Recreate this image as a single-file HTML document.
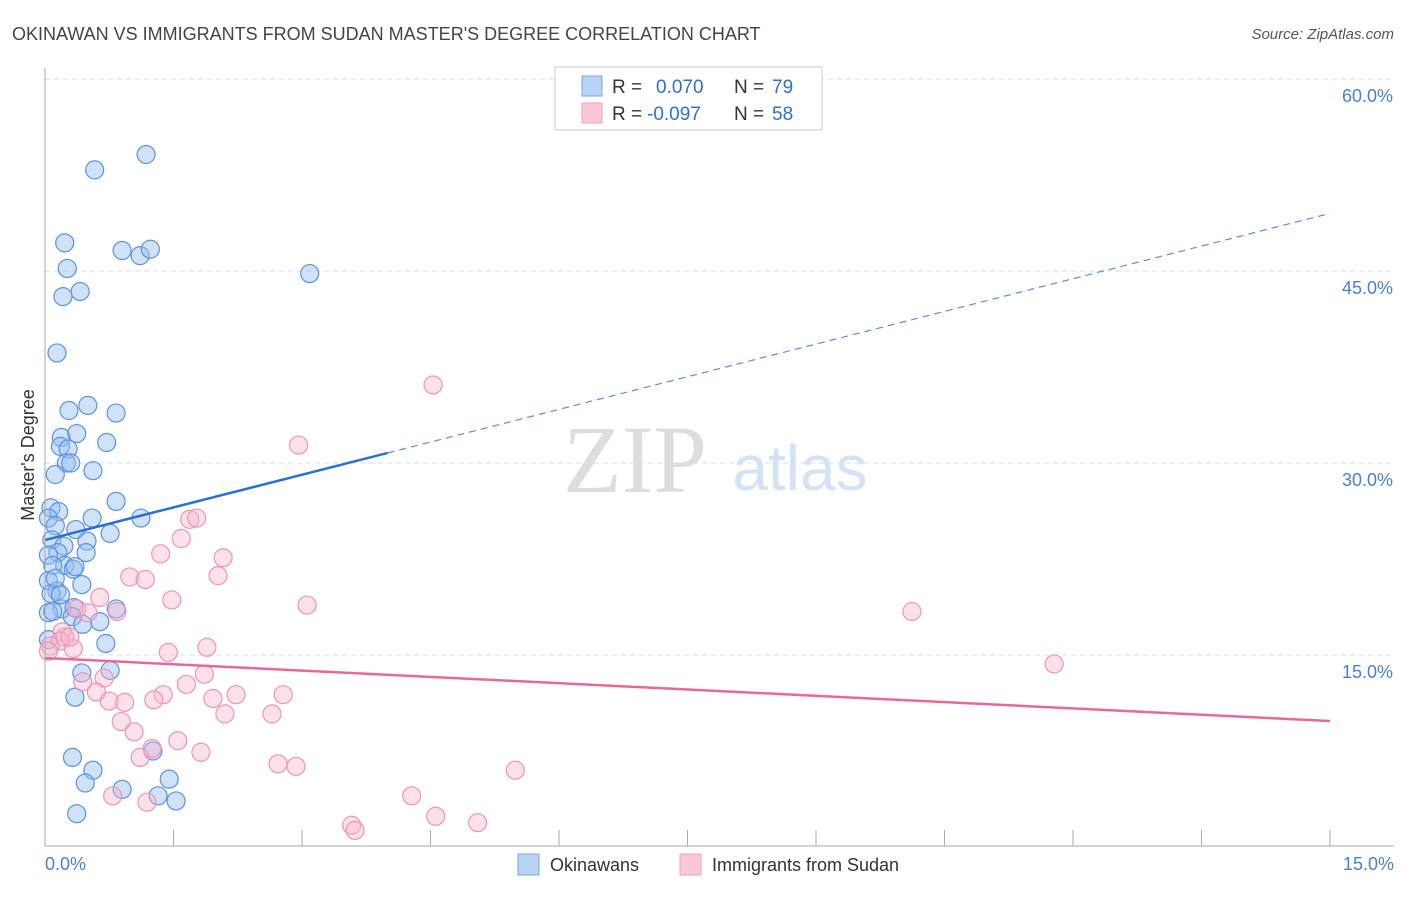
<!DOCTYPE html>
<html><head><meta charset="utf-8"><style>
body{margin:0;background:#fff;font-family:"Liberation Sans",sans-serif;}
svg text{font-family:"Liberation Sans",sans-serif;}
</style></head><body>
<svg id="chart" width="1406" height="892">
<text x="12" y="40" font-size="18" fill="#444">OKINAWAN VS IMMIGRANTS FROM SUDAN MASTER'S DEGREE CORRELATION CHART</text>
<text x="1394" y="39" font-size="15" fill="#555" font-style="italic" text-anchor="end">Source: ZipAtlas.com</text>
<g id="grid"></g>
<text x="635" y="492" font-size="96" fill="#ddd" text-anchor="middle" font-family="Liberation Serif" style="font-family:'Liberation Serif',serif">ZIP</text>
<text x="800" y="490" font-size="64" fill="#d3e2f5" text-anchor="middle">atlas</text>
<g id="points"></g>
<g id="lines"></g>
<line x1="45" y1="68" x2="45" y2="846" stroke="#aaa"/>
<line x1="45" y1="846" x2="1394" y2="846" stroke="#aaa"/>
<text x="34" y="455" font-size="18" fill="#333" text-anchor="middle" transform="rotate(-90 34 455)">Master's Degree</text>
<text x="45" y="870" font-size="18" fill="#4a7fd4">0.0%</text>
<text x="1394" y="870" font-size="18" fill="#4a7fd4" text-anchor="end">15.0%</text>
<g>
<rect x="555" y="67" width="267" height="63" fill="#fff" stroke="#ccc"/>
<rect x="582" y="76" width="20" height="20" fill="#b8d3f5" stroke="#7aa6e0"/>
<rect x="582" y="103" width="20" height="20" fill="#f9c8d8" stroke="#eea3bd"/>
<text x="612" y="93" font-size="19" fill="#333">R = </text><text x="656" y="93" font-size="19" fill="#2f6fd0">0.070</text>
<text x="734" y="93" font-size="19" fill="#333">N = </text><text x="772" y="93" font-size="19" fill="#2f6fd0">79</text>
<text x="612" y="120" font-size="19" fill="#333">R = </text><text x="647" y="120" font-size="19" fill="#2f6fd0">-0.097</text>
<text x="734" y="120" font-size="19" fill="#333">N = </text><text x="772" y="120" font-size="19" fill="#2f6fd0">58</text>
</g>
<g>
<rect x="518" y="854" width="21" height="21" fill="#b8d3f5" stroke="#7aa6e0"/>
<text x="550" y="871" font-size="18" fill="#333">Okinawans</text>
<rect x="680" y="854" width="21" height="21" fill="#f9c8d8" stroke="#eea3bd"/>
<text x="712" y="871" font-size="18" fill="#333">Immigrants from Sudan</text>
</g>
</svg>
<script>
const yTicks=[15,30,45,60];
const xTicks=[1,2,3,4,5,6,7,8,9,10,11,12,13,14,15];
const blueX=[1.18,0.58,0.23,0.90,1.11,1.23,0.26,0.41,0.21,3.09,0.14,0.28,0.50,0.83,0.19,0.37,0.18,0.27,0.72,0.25,0.30,0.56,0.12,0.83,0.07,0.16,0.55,1.12,0.04,0.12,0.36,0.76,0.08,0.22,0.49,0.15,0.48,0.04,0.23,0.33,0.09,0.35,0.04,0.43,0.14,0.07,0.20,0.34,0.83,0.04,0.32,0.44,0.64,0.09,0.71,0.43,0.76,0.35,0.32,0.56,0.47,0.90,1.45,0.37,1.32,1.53,1.26,0.04,0.12,0.18];
const blueY=[54.1,52.9,47.2,46.6,46.2,46.7,45.2,43.4,43.0,44.8,38.6,34.1,34.5,33.9,32.0,32.3,31.3,31.1,31.6,30.0,30.0,29.4,29.1,27.0,26.5,26.2,25.7,25.7,25.7,25.1,24.8,24.5,24.0,23.5,23.9,23.0,23.0,22.8,22.0,21.7,22.0,21.9,20.8,20.5,20.0,19.8,18.6,18.7,18.6,18.3,18.0,17.4,17.6,18.4,15.9,13.6,13.8,11.7,7.0,6.0,5.0,4.5,5.3,2.6,4.0,3.6,7.5,16.2,21.0,19.7];
const pinkX=[4.53,2.96,1.69,1.77,1.59,1.35,2.08,0.99,1.17,2.02,1.48,0.64,3.06,0.84,0.50,0.37,10.12,1.89,0.20,0.23,0.18,0.06,0.33,0.04,1.44,11.78,0.44,0.69,1.86,1.65,0.60,1.38,1.27,1.96,2.23,2.78,0.75,0.93,2.10,2.65,0.89,1.04,1.25,1.55,1.82,1.11,2.72,2.93,5.49,0.79,4.28,1.19,4.56,5.05,3.58,3.62,0.29];
const pinkY=[36.1,31.4,25.6,25.7,24.1,22.9,22.6,21.1,20.9,21.2,19.3,19.5,18.9,18.4,18.3,18.6,18.4,15.6,16.8,16.4,16.1,15.7,15.5,15.3,15.2,14.3,12.9,13.2,13.5,12.7,12.1,11.9,11.5,11.6,11.9,11.9,11.4,11.3,10.4,10.4,9.8,9.0,7.7,8.3,7.4,7.0,6.5,6.3,6.0,4.0,4.0,3.5,2.4,1.9,1.7,1.3,16.4];
const blueTrend=[23.98,49.5]; const blueSolidEnd=4.0;
const pinkTrend=[14.77,9.84];
const NS='http://www.w3.org/2000/svg';
const xs=v=>45+v/15*1285;
const ys=v=>847-v/60*768;
function mk(tag,attrs,parent){const e=document.createElementNS(NS,tag);for(const k in attrs)e.setAttribute(k,attrs[k]);parent.appendChild(e);return e;}
const grid=document.getElementById('grid');
yTicks.forEach(t=>{
 const l=mk('line',{x1:45,x2:1394,y1:ys(t),y2:ys(t),stroke:'#ddd','stroke-dasharray':'5,4'},grid);
 
 
 const tx=mk('text',{x:1393,y:ys(t)+23,'font-size':18,fill:'#4a7fd4','text-anchor':'end'},grid);
 tx.textContent=t.toFixed(1)+'%';
 
 
});
xTicks.forEach(t=>{
 if(t%1.2>0.01&&false)return;
});
for(let i=1;i<=10;i++){
 const x=45+i*128.5;
 const l=mk('line',{x1:x,x2:x,y1:830,y2:846,stroke:'#aaa'},grid);
 
 
}
const pts=document.getElementById('points');
blueX.forEach((v,i)=>{
 const c=mk('circle',{cx:xs(v),cy:ys(blueY[i]),r:9,fill:'rgba(150,190,240,0.45)',stroke:'#5a93dd','stroke-width':1.2},pts);
 
 
});
pinkX.forEach((v,i)=>{
 const c=mk('circle',{cx:xs(v),cy:ys(pinkY[i]),r:9,fill:'rgba(248,180,205,0.4)',stroke:'#ea95b4','stroke-width':1.2},pts);
 
 
});
const ln=document.getElementById('lines');
const by=x=>blueTrend[0]+(blueTrend[1]-blueTrend[0])*x/15;
let a=mk('line',{x1:xs(0),y1:ys(by(0)),x2:xs(blueSolidEnd),y2:ys(by(blueSolidEnd)),stroke:'#2a6fd6','stroke-width':2.5},ln);


a=mk('line',{x1:xs(blueSolidEnd),y1:ys(by(blueSolidEnd)),x2:xs(15),y2:ys(by(15)),stroke:'#5a8fdc','stroke-width':1.2,'stroke-dasharray':'7,5'},ln);


a=mk('line',{x1:xs(0),y1:ys(pinkTrend[0]),x2:xs(15),y2:ys(pinkTrend[1]),stroke:'#e8689a','stroke-width':2.5},ln);


</script>
</body></html>
